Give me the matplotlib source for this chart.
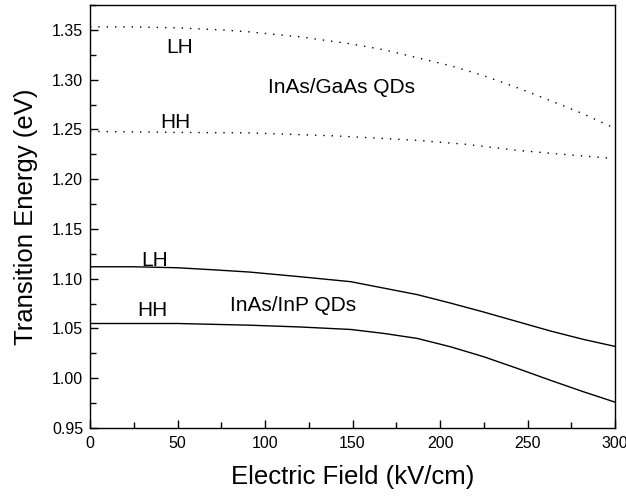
import numpy as np
import matplotlib
matplotlib.use('Agg')
import matplotlib.pyplot as plt

plt.rcParams['font.family'] = ['Liberation Sans', 'DejaVu Sans']

# InAs/GaAs QDs (courbes en pointillés)
gaas_lh_x = [0, 25, 50, 75, 91, 120, 149, 168, 187, 206, 225, 244, 263, 282, 300]
gaas_lh_y = [1.353, 1.353, 1.352, 1.350, 1.348, 1.343, 1.336, 1.330, 1.322, 1.314,
             1.304, 1.292, 1.279, 1.2655, 1.251]
gaas_hh_x = [0, 50, 91, 140, 187, 215, 244, 270, 298]
gaas_hh_y = [1.248, 1.247, 1.2465, 1.2435, 1.239, 1.235, 1.229, 1.225, 1.221]

# InAs/InP QDs (courbes pleines)
inp_lh_x = [0, 25, 50, 70, 91, 120, 149, 168, 187, 206, 225, 244, 263, 282, 300]
inp_lh_y = [1.112, 1.112, 1.111, 1.109, 1.1067, 1.102, 1.097, 1.0905, 1.084, 1.0755,
            1.0665, 1.057, 1.0475, 1.039, 1.032]
inp_hh_x = [0, 50, 91, 120, 149, 168, 187, 206, 225, 244, 263, 282, 300]
inp_hh_y = [1.055, 1.055, 1.0533, 1.0515, 1.049, 1.045, 1.040, 1.0316, 1.0216, 1.010,
            0.998, 0.9864, 0.976]

fig = plt.figure(figsize=(6.26, 4.98), dpi=100)
ax = fig.add_axes([90/626, 70/498, 525/626, 423/498])

ax.plot(gaas_lh_x, gaas_lh_y, color='black', lw=1, linestyle=(0, (1, 5)))
ax.plot(gaas_hh_x, gaas_hh_y, color='black', lw=1, linestyle=(0, (1, 5)))
ax.plot(inp_lh_x, inp_lh_y, color='black', lw=1)
ax.plot(inp_hh_x, inp_hh_y, color='black', lw=1)

# Annotations
ann = dict(fontsize=15, ha='center', va='center')
ax.text(51, 1.332, 'LH', **ann)
ax.text(49, 1.257, 'HH', **ann)
ax.text(144, 1.292, 'InAs/GaAs QDs', **ann)
ax.text(37, 1.118, 'LH', **ann)
ax.text(35.5, 1.068, 'HH', **ann)
ax.text(116, 1.073, 'InAs/InP QDs', **ann)

ax.set_xlim(0, 300)
ax.set_ylim(0.95, 1.375)
ax.set_xticks(np.arange(0, 301, 50))
ax.set_xticks(np.arange(0, 301, 25), minor=True)
ax.set_yticks(np.arange(0.95, 1.351, 0.05))
ax.set_yticks(np.arange(0.95, 1.376, 0.025), minor=True)
ax.yaxis.set_major_formatter(matplotlib.ticker.FormatStrFormatter('%.2f'))

ax.tick_params(which='both', direction='in', labelsize=11.5, width=1)
ax.tick_params(which='major', length=6)
ax.tick_params(which='minor', length=4)
ax.tick_params(axis='x', pad=6)
ax.tick_params(axis='y', pad=5)

ax.set_xlabel('Electric Field (kV/cm)', fontsize=18.5, labelpad=10)
ax.set_ylabel('Transition Energy (eV)', fontsize=18.5, labelpad=10)

for s in ax.spines.values():
    s.set_linewidth(1)

fig.savefig('out.png', dpi=100)
